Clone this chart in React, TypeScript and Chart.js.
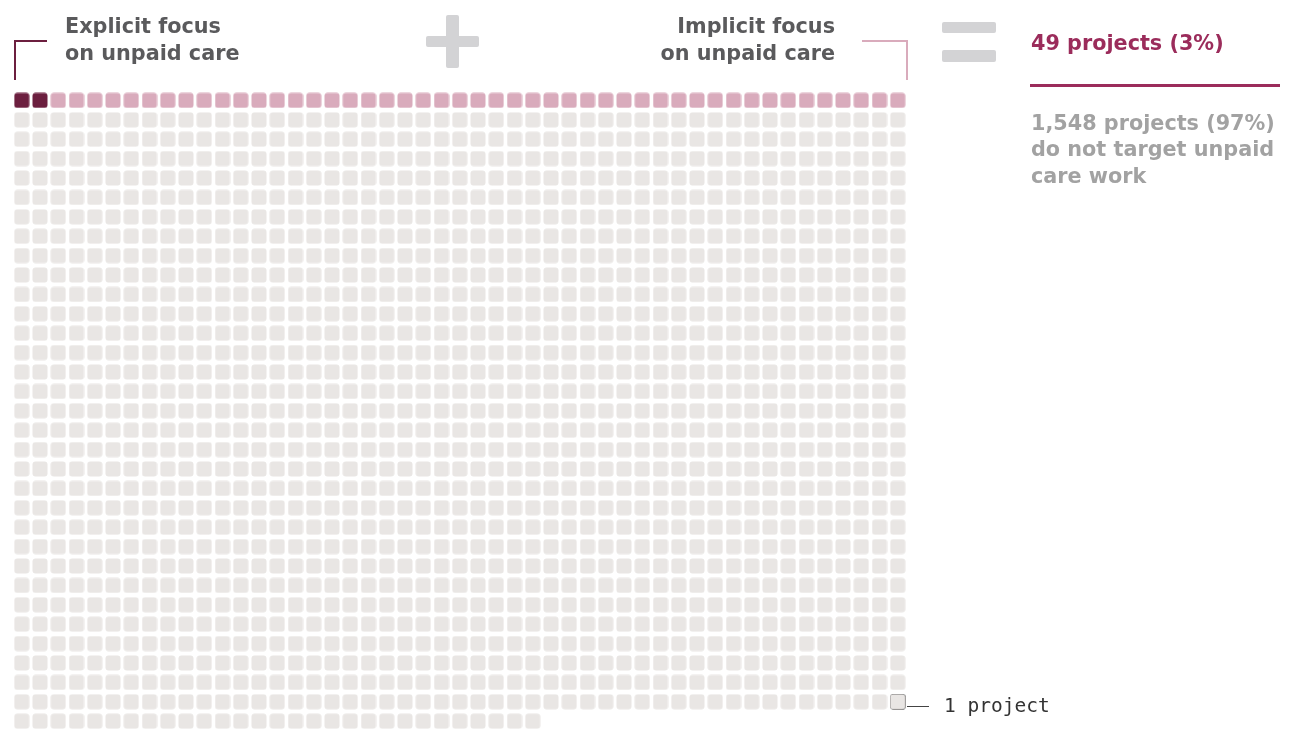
import React, { useEffect, useRef } from "react";
import { Chart, registerables } from "chart.js";

Chart.register(...registerables);

// ---- data ----
const CATEGORIES = [
  "Explicit focus on unpaid care",
  "Implicit focus on unpaid care",
  "Do not target unpaid care work",
];
const PROJECT_COUNTS = [2, 47, 1548];
const CELL_COLORS = ["#6c1f3f", "#d9abbc", "#e9e6e4"];
const COLUMNS = 49;
const LEGEND_CELL = { x: 48, y: 31 };
const LEGEND_LABEL = "1 project";
const SUMMARY_TARGET = "49 projects (3%)";
const SUMMARY_OTHER = ["1,548 projects (97%)", "do not target unpaid", "care work"];
const TITLE_EXPLICIT = ["Explicit focus", "on unpaid care"];
const TITLE_IMPLICIT = ["Implicit focus", "on unpaid care"];

function cellImage(fill: string | null, stroke: string | null): HTMLCanvasElement {
  const c = document.createElement("canvas");
  c.width = 16;
  c.height = 16;
  const ctx = c.getContext("2d")!;
  ctx.beginPath();
  if (stroke) {
    ctx.roundRect(0.75, 0.75, 14.5, 14.5, 3);
    ctx.fillStyle = "#e9e6e4";
    ctx.fill();
    ctx.strokeStyle = stroke;
    ctx.lineWidth = 1.3;
    ctx.stroke();
  } else {
    ctx.roundRect(0.5, 0.5, 15, 15, 3);
    ctx.fillStyle = fill!;
    ctx.fill();
  }
  return c;
}

const FONT = "'DejaVu Sans', sans-serif";

export default function App() {
  const ref = useRef<HTMLCanvasElement | null>(null);

  useEffect(() => {
    if (!ref.current) return;
    let idx = 0;
    const datasets: any[] = CATEGORIES.map((label, ci) => {
      const data: { x: number; y: number }[] = [];
      for (let k = 0; k < PROJECT_COUNTS[ci]; k++) {
        data.push({ x: idx % COLUMNS, y: Math.floor(idx / COLUMNS) });
        idx++;
      }
      return {
        label,
        data,
        pointStyle: cellImage(CELL_COLORS[ci], null),
        clip: false,
      };
    });
    datasets.push({
      label: LEGEND_LABEL,
      data: [LEGEND_CELL],
      pointStyle: cellImage(null, "#444444"),
      clip: false,
    });

    const chart = new Chart(ref.current, {
      type: "scatter",
      data: { datasets },
      options: {
        animation: false,
        responsive: false,
        events: [],
        layout: { padding: { left: 12.625, right: 1298 - 906.875, top: 90.725, bottom: 0 } },
        plugins: { legend: { display: false }, tooltip: { enabled: false } },
        scales: {
          x: { type: "linear", min: -0.5, max: COLUMNS - 0.5, display: false },
          y: { type: "linear", min: -0.5, max: 32.3, reverse: true, display: false },
        },
      },
    });
    return () => chart.destroy();
  }, []);

  const titleStyle: React.CSSProperties = {
    position: "absolute",
    fontFamily: FONT,
    fontWeight: 700,
    fontSize: 20.75,
    lineHeight: "27px",
    color: "#5a5a5c",
    whiteSpace: "nowrap",
  };

  return (
    <div style={{ position: "absolute", left: 0, top: 0, width: 1298, height: 732, overflow: "hidden", background: "#fff" }}>
      <canvas ref={ref} width={1298} height={732} style={{ position: "absolute", left: 0, top: 0 }} />
      {/* left bracket */}
      <div style={{ position: "absolute", left: 14, top: 40, width: 33, height: 2, background: "#6c1f3f" }} />
      <div style={{ position: "absolute", left: 14, top: 40, width: 2, height: 40, background: "#6c1f3f" }} />
      {/* right bracket */}
      <div style={{ position: "absolute", left: 862, top: 40, width: 46, height: 2, background: "#d9abbc" }} />
      <div style={{ position: "absolute", left: 906, top: 40, width: 2, height: 40, background: "#d9abbc" }} />
      {/* plus */}
      <div style={{ position: "absolute", left: 426, top: 36, width: 53, height: 11, borderRadius: 2, background: "#d3d3d5" }} />
      <div style={{ position: "absolute", left: 446, top: 15, width: 13, height: 53, borderRadius: 2, background: "#d3d3d5" }} />
      {/* equals */}
      <div style={{ position: "absolute", left: 942, top: 22, width: 54, height: 11, borderRadius: 2, background: "#d3d3d5" }} />
      <div style={{ position: "absolute", left: 942, top: 50, width: 54, height: 12, borderRadius: 2, background: "#d3d3d5" }} />
      {/* titles */}
      <div style={{ ...titleStyle, left: 65, top: 12.5 }}>
        {TITLE_EXPLICIT.map((t) => (<div key={t}>{t}</div>))}
      </div>
      <div style={{ ...titleStyle, right: 1298 - 835, top: 12.5, textAlign: "right" }}>
        {TITLE_IMPLICIT.map((t) => (<div key={t}>{t}</div>))}
      </div>
      {/* summary */}
      <div style={{ ...titleStyle, left: 1031, top: 29.5, color: "#9b2c5b" }}>{SUMMARY_TARGET}</div>
      <div style={{ position: "absolute", left: 1030, top: 84, width: 250, height: 3, background: "#9b2c5b" }} />
      <div style={{ ...titleStyle, left: 1031, top: 109.75, lineHeight: "26.5px", color: "#a2a2a2" }}>
        {SUMMARY_OTHER.map((t) => (<div key={t}>{t}</div>))}
      </div>
      {/* legend */}
      <div style={{ position: "absolute", left: 907, top: 706, width: 22, height: 1, background: "#444444" }} />
      <div style={{ position: "absolute", left: 944, top: 694, fontFamily: "'DejaVu Sans Mono', monospace", fontSize: 19.5, lineHeight: "24px", color: "#333333", whiteSpace: "nowrap" }}>
        {LEGEND_LABEL}
      </div>
    </div>
  );
}
